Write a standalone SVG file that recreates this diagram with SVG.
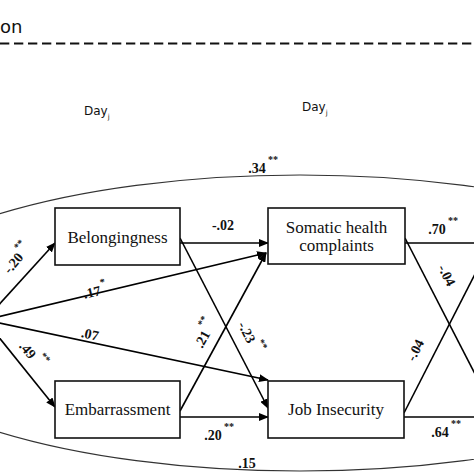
<svg xmlns="http://www.w3.org/2000/svg" width="474" height="474" viewBox="0 0 474 474">
<defs>
<marker id="arr" markerUnits="userSpaceOnUse" markerWidth="10" markerHeight="8" refX="9" refY="4" orient="auto">
<path d="M0,0 L10,4 L0,8 z" fill="#000"/>
</marker>
<style>
.box{fill:#fff;stroke:#111;stroke-width:1.6}
.bt{font-family:"Liberation Serif","Times New Roman",serif;font-size:17px;fill:#111;text-anchor:middle}
.ln{stroke:#000;stroke-width:1.6;fill:none}
.lb{font-family:"Liberation Serif","Times New Roman",serif;font-size:14px;font-weight:bold;fill:#111;text-anchor:middle}
.st{font-family:"Liberation Serif","Times New Roman",serif;font-size:10px;font-weight:bold;fill:#111}
.day{font-family:"DejaVu Sans",Verdana,sans-serif;font-size:12px;fill:#111}
</style>
</defs>
<rect width="474" height="474" fill="#fff"/>
<text x="0" y="33" font-family="DejaVu Sans,Verdana,sans-serif" font-size="18" fill="#111">on</text>
<line x1="0" y1="43.5" x2="474" y2="43.5" stroke="#111" stroke-width="2" stroke-dasharray="9.3,4.7"/>
<text class="day" x="84" y="115">Day<tspan font-size="7" dy="4">j</tspan></text>
<text class="day" x="302" y="111">Day<tspan font-size="7" dy="4">j</tspan></text>

<ellipse cx="300" cy="323" rx="445" ry="148" fill="none" stroke="#333" stroke-width="1.1"/>

<g id="connectors">
<line class="ln" x1="-15" y1="320" x2="55" y2="243" marker-end="url(#arr)"/>
<line class="ln" x1="-15" y1="320" x2="266" y2="253" marker-end="url(#arr)"/>
<line class="ln" x1="-15" y1="320" x2="268" y2="380" marker-end="url(#arr)"/>
<line class="ln" x1="-15" y1="320" x2="55" y2="407" marker-end="url(#arr)"/>
<line class="ln" x1="180" y1="243" x2="268" y2="243" marker-end="url(#arr)"/>
<line class="ln" x1="180" y1="238" x2="268" y2="408" marker-end="url(#arr)"/>
<line class="ln" x1="180" y1="411" x2="266" y2="253" marker-end="url(#arr)"/>
<line class="ln" x1="180" y1="417" x2="268" y2="417" marker-end="url(#arr)"/>
<line class="ln" x1="405" y1="243" x2="480" y2="243"/>
<line class="ln" x1="405" y1="238" x2="476" y2="376"/>
<line class="ln" x1="404" y1="413" x2="476" y2="272"/>
<line class="ln" x1="404" y1="417" x2="480" y2="417"/>
</g>

<g id="belongingness">
<rect class="box" x="55" y="208" width="125" height="57"/>
<text class="bt" x="117.5" y="243">Belongingness</text>
</g>
<g id="somatic">
<rect class="box" x="268" y="208" width="137" height="56"/>
<text class="bt" x="336.5" y="233">Somatic health</text>
<text class="bt" x="336.5" y="251">complaints</text>
</g>
<g id="embarrassment">
<rect class="box" x="55" y="381" width="125" height="57"/>
<text class="bt" x="117.5" y="415">Embarrassment</text>
</g>
<g id="jobinsecurity">
<rect class="box" x="268" y="381" width="136" height="57"/>
<text class="bt" x="336" y="415">Job Insecurity</text>
</g>

<g id="labels">
<g transform="translate(257,168)"><text class="lb" y="5">.34</text><text class="st" x="11" y="-5">**</text></g>
<g transform="translate(13,263) rotate(-50)"><text class="lb" y="5">-.20</text><text class="st" x="13" y="-4">**</text></g>
<g transform="translate(92,292) rotate(-13)"><text class="lb" y="5">.17</text><text class="st" x="10" y="-4">*</text></g>
<g transform="translate(90,334) rotate(12)"><text class="lb" y="5">.07</text></g>
<g transform="translate(28,350) rotate(50)"><text class="lb" y="5">.49</text><text class="st" x="12" y="-5">**</text></g>
<g transform="translate(223,225)"><text class="lb" y="5">-.02</text></g>
<g transform="translate(202,339) rotate(-61)"><text class="lb" y="5">.21</text><text class="st" x="11" y="-5">**</text></g>
<g transform="translate(247,332) rotate(63)"><text class="lb" y="5">-.23</text><text class="st" x="13" y="-5">**</text></g>
<g transform="translate(213,435)"><text class="lb" y="5">.20</text><text class="st" x="11" y="-5">**</text></g>
<g transform="translate(247,463)"><text class="lb" y="5">.15</text></g>
<g transform="translate(437,229)"><text class="lb" y="5">.70</text><text class="st" x="11" y="-5">**</text></g>
<g transform="translate(447,275) rotate(63)"><text class="lb" y="5">-.04</text></g>
<g transform="translate(415,350) rotate(-63)"><text class="lb" y="5">-.04</text></g>
<g transform="translate(440,432)"><text class="lb" y="5">.64</text><text class="st" x="11" y="-5">**</text></g>
</g>
</svg>
